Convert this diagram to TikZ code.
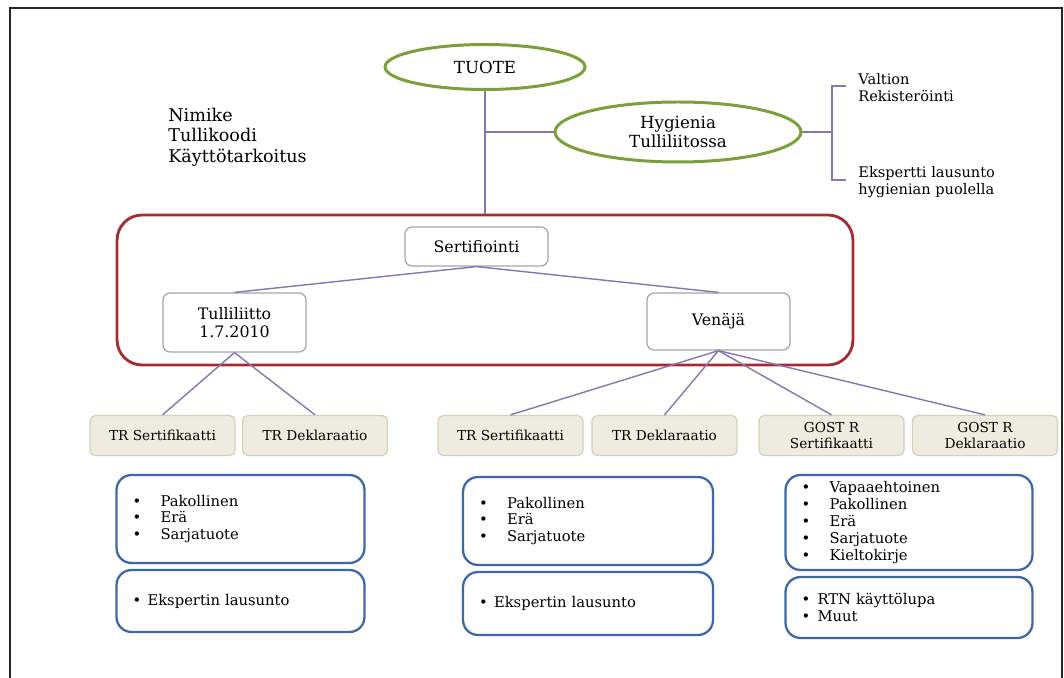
\documentclass[tikz,border=0pt]{standalone}
\usepackage{fontspec}
\setmainfont{DejaVu Serif}
\usetikzlibrary{shapes.geometric}

\definecolor{vihrea}{RGB}{121,160,58}
\definecolor{punainen}{RGB}{163,45,45}
\definecolor{sininen}{RGB}{62,103,166}
\definecolor{violetti}{RGB}{132,118,176}
\definecolor{harmaa}{RGB}{165,165,165}
\definecolor{beige}{RGB}{238,236,225}
\definecolor{beigereuna}{RGB}{214,208,182}

\newcommand{\kohta}[2]{\makebox[#1][l]{\textbullet}#2}

\begin{document}
\begin{tikzpicture}[x=0.02cm,y=-0.02cm,
    oval/.style={ellipse,draw=vihrea,line width=1.7pt,inner sep=0pt,align=center,
        font=\fontsize{9.5}{10.5}\selectfont},
    ryhma/.style={draw=punainen,line width=1.6pt,rounded corners=0.5cm,
        minimum width=14.72cm,minimum height=3cm},
    laatikko/.style={draw=harmaa,fill=white,line width=0.7pt,rounded corners=4pt,
        minimum width=2.86cm,align=center,font=\fontsize{9}{10.5}\selectfont},
    tyyppi/.style={draw=beigereuna,fill=beige,line width=0.7pt,rounded corners=3pt,
        minimum width=2.9cm,minimum height=0.8cm,inner sep=1pt,align=center,
        font=\fontsize{7.8}{9}\selectfont},
    lista/.style={draw=sininen,line width=1.3pt,rounded corners=0.3cm,
        inner xsep=0.32cm,align=left,font=\fontsize{8.4}{9.6}\selectfont},
    teksti/.style={align=left,inner sep=0pt},
    line/.style={draw=violetti,line width=0.8pt}]

\useasboundingbox (0,0) rectangle (1064,678);
% kehys
\draw[line width=1.2pt,black!85] (10,678) -- (10,8) -- (1062,8) -- (1062,678);

% tuote ja hygienia
\node[oval,minimum width=4cm,minimum height=0.9cm] (tuote) at (485,67) {TUOTE};
\node[oval,minimum width=4.92cm,minimum height=1.2cm] (hyg) at (678,132) {Hygienia\\Tulliliitossa};
\node[teksti,anchor=west,font=\fontsize{10}{11.6}\selectfont] (nimike) at (168,137)
    {Nimike\\Tullikoodi\\Käyttötarkoitus};
\node[teksti,anchor=west,font=\fontsize{8.3}{9.6}\selectfont] (valtion) at (858,88) {Valtion\\Rekisteröinti};
\node[teksti,anchor=west,font=\fontsize{8.3}{9.6}\selectfont] (ekspertti) at (858,182) {Ekspertti lausunto\\hygienian puolella};

% sertifiointi
\node[ryhma] (ryhma) at (485,290) {};
\node[laatikko,minimum height=0.78cm] (sert) at (476.5,246.5) {Sertifiointi};
\node[laatikko,minimum height=1.18cm] (tulli) at (234.5,322.5) {Tulliliitto\\1.7.2010};
\node[laatikko,minimum height=1.14cm] (ven) at (718.5,321.5) {Venäjä};

% asiakirjat
\node[tyyppi] (trs1) at (162.5,435.5) {TR Sertifikaatti};
\node[tyyppi] (trd1) at (315,435.5) {TR Deklaraatio};
\node[tyyppi] (trs2) at (510.5,435.5) {TR Sertifikaatti};
\node[tyyppi] (trd2) at (664.5,435.5) {TR Deklaraatio};
\node[tyyppi] (gs) at (831.5,435.5) {GOST R\\Sertifikaatti};
\node[tyyppi] (gd) at (985,435.5) {GOST R\\Deklaraatio};

% listat
\node[lista,text width=4.32cm,minimum height=1.76cm] (l1) at (240.5,519)
    {\kohta{0.56cm}{Pakollinen}\\\kohta{0.56cm}{Erä}\\\kohta{0.56cm}{Sarjatuote}};
\node[lista,text width=4.32cm,minimum height=1.24cm] (e1) at (240.5,601)
    {\kohta{0.3cm}{Ekspertin lausunto}};
\node[lista,text width=4.36cm,minimum height=1.76cm] (l2) at (588,521)
    {\kohta{0.56cm}{Pakollinen}\\\kohta{0.56cm}{Erä}\\\kohta{0.56cm}{Sarjatuote}};
\node[lista,text width=4.36cm,minimum height=1.26cm] (e2) at (588,603.5)
    {\kohta{0.3cm}{Ekspertin lausunto}};
\node[lista,text width=4.3cm,minimum height=1.9cm] (l3) at (909,522.5)
    {\kohta{0.56cm}{Vapaaehtoinen}\\\kohta{0.56cm}{Pakollinen}\\\kohta{0.56cm}{Erä}\\
     \kohta{0.56cm}{Sarjatuote}\\\kohta{0.56cm}{Kieltokirje}};
\node[lista,text width=4.3cm,minimum height=1.22cm] (e3) at (909,607.5)
    {\kohta{0.32cm}{RTN käyttölupa}\\\kohta{0.32cm}{Muut}};

% yhteydet
\coordinate (haara) at (485,132);
\coordinate (sulku) at (832,132);
\coordinate (sulkuy) at (832,86);
\coordinate (sulkua) at (832,180);
\coordinate (pyy) at (846,86);
\coordinate (pya) at (846,180);
\path[line] (tuote.south) edge (ryhma.north)
    (haara) edge (hyg.west)
    (hyg.east) edge (sulku);
\draw[line] (pyy) -- (sulkuy) -- (sulkua) -- (pya);
\path[line] (sert.south) edge (tulli.north)
    edge (ven.north)
    (tulli.south) edge (trs1.north)
    edge (trd1.north)
    (ven.south) edge (trs2.north)
    edge (trd2.north)
    edge (gs.north)
    edge (gd.north);
\end{tikzpicture}
\end{document}
